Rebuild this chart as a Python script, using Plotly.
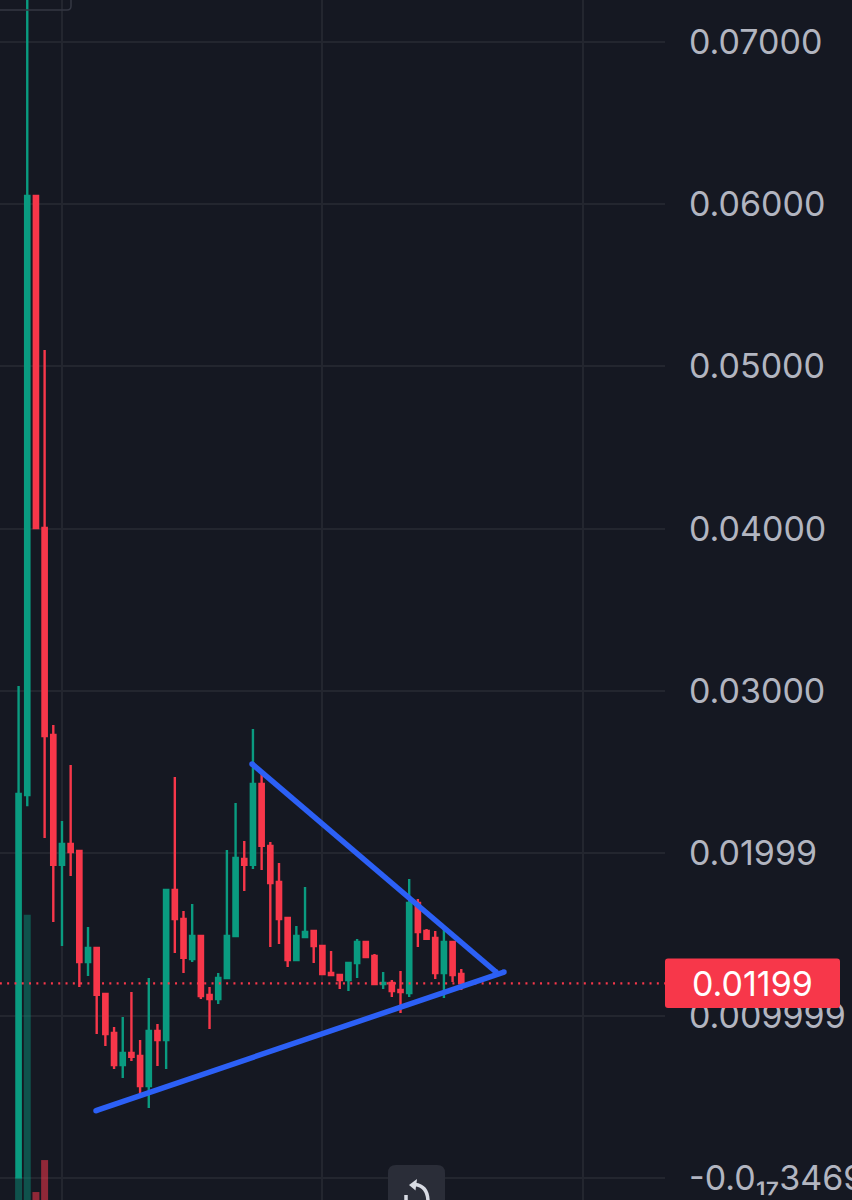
import plotly.graph_objects as go

# daily candles
opens = [0.00005, 0.0236, 0.0605, 0.04005, 0.0273, 0.01929, 0.02058, 0.02015, 0.01331, 0.01417,
         0.01134, 0.00893, 0.00696, 0.0077, 0.00752, 0.00567, 0.00906, 0.0085, 0.01775, 0.01596,
         0.01349, 0.01491, 0.01128, 0.01103, 0.01232, 0.01491, 0.01966, 0.01929, 0.02428, 0.02046,
         0.01824, 0.01602, 0.01343, 0.01485, 0.01522, 0.01429, 0.01263, 0.01251, 0.0122, 0.01325,
         0.01454, 0.01368, 0.01195, 0.01201, 0.01158, 0.0114, 0.01694, 0.01522, 0.01479, 0.01263,
         0.01454, 0.01257]
highs = [0.03031, 0.0735, 0.0605, 0.05102, 0.02791, 0.022, 0.02545, 0.02015, 0.01547, 0.01417,
         0.01134, 0.0093, 0.00992, 0.01146, 0.0085, 0.01232, 0.00949, 0.01775, 0.02471, 0.01645,
         0.01688, 0.01491, 0.01177, 0.01263, 0.02021, 0.02311, 0.02076, 0.02766, 0.02502, 0.0207,
         0.01941, 0.01602, 0.01553, 0.01793, 0.01522, 0.01429, 0.01399, 0.01251, 0.01325, 0.01473,
         0.0146, 0.0138, 0.01269, 0.0122, 0.01275, 0.01842, 0.01719, 0.01534, 0.01522, 0.01534,
         0.01454, 0.01288]
lows = [0.00005, 0.0229, 0.04005, 0.02095, 0.01577, 0.01429, 0.01861, 0.01177, 0.01245, 0.00887,
        0.00813, 0.00672, 0.00616, 0.00721, 0.00511, 0.00431, 0.0069, 0.00672, 0.01386, 0.01263,
        0.01331, 0.01103, 0.00918, 0.01072, 0.01232, 0.01491, 0.01768, 0.01904, 0.01898, 0.01423,
        0.01442, 0.013, 0.01343, 0.01485, 0.01325, 0.01257, 0.01245, 0.01165, 0.01152, 0.01232,
        0.01356, 0.01195, 0.01165, 0.01115, 0.01017, 0.01115, 0.01423, 0.01467, 0.01226, 0.01109,
        0.01208, 0.01158]
closes = [0.02366, 0.0605, 0.04005, 0.02723, 0.01929, 0.02058, 0.02009, 0.01331, 0.01417, 0.01128,
          0.00887, 0.00696, 0.0077, 0.00746, 0.00567, 0.00906, 0.0085, 0.01775, 0.01596, 0.01356,
          0.01491, 0.01121, 0.01103, 0.01232, 0.01491, 0.01972, 0.01929, 0.02428, 0.02046, 0.01818,
          0.01596, 0.01343, 0.01491, 0.01516, 0.01429, 0.01257, 0.01251, 0.0122, 0.01325, 0.01454,
          0.01362, 0.01195, 0.01201, 0.01152, 0.01146, 0.01694, 0.01516, 0.01473, 0.01263, 0.01454,
          0.01251, 0.01199]
candle_x = list(range(len(opens)))

# only the first few volume bars reach into view
vol_x = [0, 1, 2, 3]
vol_heights = [0.00142, 0.01757, 0.00049, 0.00246]
vol_colors = ["rgba(8,153,129,0.45)", "rgba(8,153,129,0.45)", "rgba(247,55,74,0.55)", "rgba(247,55,74,0.55)"]

# hand drawn triangle
lower_x = [8.92, 55.92]
lower_y = [0.00415, 0.01269]
upper_x = [26.89, 55.0]
upper_y = [0.02551, 0.01269]

last_price = 0.01199

tick_vals = [0.07, 0.06, 0.05, 0.04, 0.03, 0.02, 0.01, 0.0]
tick_text = ["0.07000", "0.06000", "0.05000", "0.04000", "0.03000", "0.01999", "0.009999", "-0.0₁₇3469"]
time_grid = [5, 35, 65]

BG = "#151822"
GRID = "#23262f"
GREEN = "#0a9b80"
RED = "#f7374a"
BLUE = "#2c60f6"
ICON = "#d8dbe3"
W, H = 852, 1200
PLOT_W = 665
y_bottom, y_top = -0.001356, 0.07258


def px(x):
    return x / PLOT_W


def py(y):
    return 1 - y / H


def rounded(x0, y0, x1, y1, r):
    # rounded rectangle in paper coordinates, given in window pixels
    return (f"M {px(x0+r)} {py(y0)} L {px(x1-r)} {py(y0)} Q {px(x1)} {py(y0)} {px(x1)} {py(y0+r)} "
            f"L {px(x1)} {py(y1-r)} Q {px(x1)} {py(y1)} {px(x1-r)} {py(y1)} L {px(x0+r)} {py(y1)} "
            f"Q {px(x0)} {py(y1)} {px(x0)} {py(y1-r)} L {px(x0)} {py(y0+r)} Q {px(x0)} {py(y0)} {px(x0+r)} {py(y0)} Z")


fig = go.Figure()

fig.add_trace(go.Bar(x=vol_x, y=vol_heights, base=y_bottom, marker=dict(color=vol_colors, line_width=0), width=0.8))

fig.add_trace(go.Candlestick(
    x=candle_x, open=opens, high=highs, low=lows, close=closes,
    increasing=dict(line=dict(color=GREEN, width=2.4), fillcolor=GREEN),
    decreasing=dict(line=dict(color=RED, width=2.4), fillcolor=RED),
    whiskerwidth=0,
))

fig.add_trace(go.Scatter(x=[-3, 75], y=[last_price, last_price], mode="lines",
                         line=dict(color=RED, width=2.4, dash="2px,5.3px")))

for xs, ys in [(lower_x, lower_y), (upper_x, upper_y)]:
    fig.add_trace(go.Scatter(x=xs, y=ys, mode="lines+markers", line=dict(color=BLUE, width=5.5),
                             marker=dict(color=BLUE, size=5.5, line_width=0)))

# reset button icon, cut by the bottom edge like in the screenshot
arc = (f"M {px(415)} {py(1184.5)} Q {px(428)} {py(1186)} {px(428)} {py(1202)}")
stub = f"M {px(406)} {py(1195)} L {px(406)} {py(1202)}"
head = f"M {px(409)} {py(1185)} L {px(417)} {py(1179)} L {px(415.5)} {py(1190.5)} Z"

fig.update_layout(
    width=W, height=H,
    margin=dict(l=0, r=W - PLOT_W, t=0, b=0, autoexpand=False),
    paper_bgcolor=BG, plot_bgcolor=BG,
    showlegend=False, hovermode=False,
    font=dict(family="Inter", color="#b2b5c0", size=34),
    boxgap=0.3,
    shapes=[
        dict(type="path", path=rounded(-10, -10, 71, 10, 4), xref="paper", yref="paper",
             line=dict(color="#343743", width=1.5), layer="above"),
        dict(type="path", path=rounded(388, 1165, 445, 1215, 8), xref="paper", yref="paper",
             fillcolor="#2a2d38", line_width=0, layer="above"),
        dict(type="path", path=rounded(665, 958.5, 840, 1008, 3), xref="paper", yref="paper",
             fillcolor=RED, line_width=0, layer="above"),
        dict(type="path", path=arc, xref="paper", yref="paper", line=dict(color=ICON, width=3.5), layer="above"),
        dict(type="path", path=stub, xref="paper", yref="paper", line=dict(color=ICON, width=3.5), layer="above"),
        dict(type="path", path=head, xref="paper", yref="paper", fillcolor=ICON, line_width=0, layer="above"),
    ],
    annotations=[
        dict(text="0.01199", xref="paper", yref="paper", x=px(690), y=py(984), xanchor="left", yanchor="middle",
             showarrow=False, font=dict(family="Inter", color="white", size=34)),
    ],
)
fig.update_xaxes(range=[-2.14, 74.47], rangeslider_visible=False, showticklabels=False, ticks="",
                 tickmode="array", tickvals=time_grid, showgrid=True, gridcolor=GRID, gridwidth=2,
                 zeroline=False, showline=False)
fig.update_yaxes(range=[y_bottom, y_top], side="right", tickmode="array", tickvals=tick_vals, ticktext=tick_text,
                 ticks="", ticklabelstandoff=23, showgrid=True, gridcolor=GRID, gridwidth=2,
                 zeroline=False, showline=False)

fig.write_html("out.html", config=dict(displayModeBar=False), post_script="document.body.style.margin='0';")
